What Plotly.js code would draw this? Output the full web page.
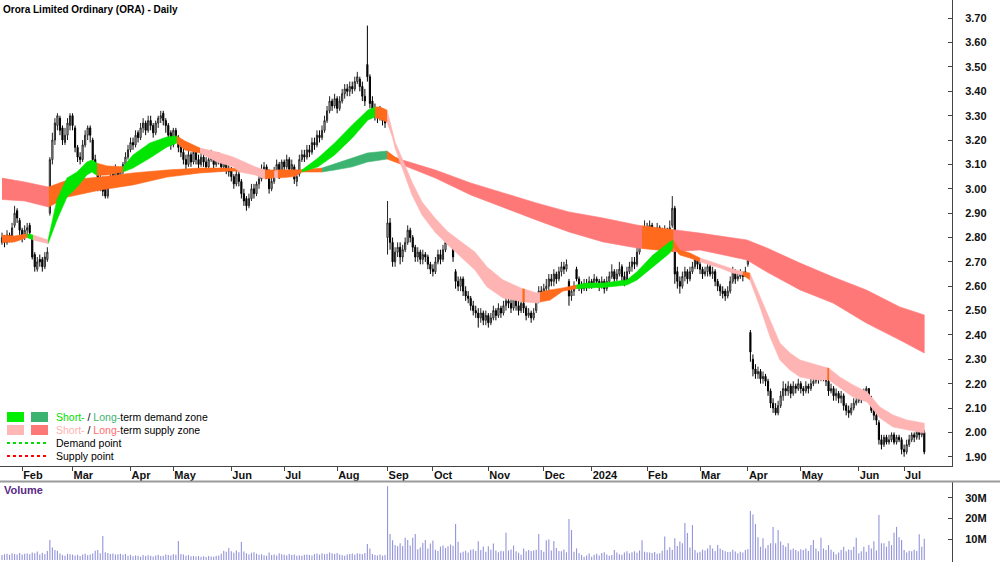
<!DOCTYPE html>
<html><head><meta charset="utf-8">
<script src="https://cdn.plot.ly/plotly-3.0.1.min.js"></script>
<style>html,body{margin:0;padding:0;background:#fff}#chart{width:1000px;height:562px}</style>
</head><body><div id="chart"></div>
<script>
// ---- Daily candles (trading-day order, Jan 2023 - Jul 2024) ----
const openP = [
2.78,2.80,2.78,2.81,2.79,2.85,2.91,2.87,2.83,2.80,
2.83,2.85,2.80,2.73,2.67,2.71,2.71,2.68,2.71,2.90,
3.12,3.20,3.26,3.29,3.25,3.19,3.22,3.26,3.30,3.25,
3.17,3.13,3.12,3.18,3.22,3.25,3.20,3.12,3.08,3.00,
3.03,3.00,2.97,3.02,3.06,3.04,3.08,3.03,3.07,3.10,
3.13,3.16,3.19,3.18,3.23,3.21,3.25,3.27,3.24,3.28,
3.26,3.23,3.27,3.29,3.31,3.28,3.26,3.23,3.18,3.24,
3.21,3.17,3.15,3.12,3.10,3.14,3.11,3.15,3.12,3.10,
3.13,3.11,3.09,3.12,3.14,3.10,3.13,3.12,3.09,3.11,
3.08,3.08,3.05,3.02,3.06,3.03,2.98,2.96,2.93,2.96,
3.00,2.98,3.02,3.04,3.08,3.09,3.07,3.00,3.03,3.07,
3.10,3.06,3.11,3.09,3.12,3.08,3.09,3.03,3.06,3.12,
3.14,3.13,3.16,3.15,3.19,3.18,3.22,3.21,3.24,3.28,
3.32,3.36,3.34,3.37,3.33,3.36,3.39,3.41,3.40,3.42,
3.41,3.44,3.45,3.42,3.38,3.51,3.46,3.36,3.33,3.31,
3.29,3.32,3.29,2.80,2.86,2.78,2.70,2.74,2.76,2.72,
2.75,2.78,2.83,2.80,2.76,2.72,2.74,2.71,2.73,2.72,
2.69,2.67,2.66,2.70,2.73,2.71,2.75,2.78,2.80,2.79,
2.66,2.62,2.60,2.63,2.58,2.56,2.55,2.52,2.50,2.49,
2.47,2.49,2.46,2.48,2.45,2.47,2.50,2.48,2.51,2.49,
2.52,2.54,2.53,2.51,2.55,2.52,2.50,2.53,2.51,2.48,
2.49,2.47,2.50,2.55,2.58,2.56,2.59,2.60,2.63,2.62,
2.65,2.63,2.66,2.68,2.67,2.62,2.56,2.58,2.67,2.63,
2.60,2.59,2.61,2.60,2.62,2.61,2.63,2.62,2.60,2.62,
2.59,2.62,2.64,2.66,2.63,2.65,2.68,2.64,2.62,2.66,
2.68,2.70,2.69,2.74,2.78,2.80,2.84,2.81,2.85,2.79,
2.82,2.84,2.82,2.80,2.83,2.81,2.85,2.92,2.66,2.62,
2.60,2.64,2.66,2.63,2.66,2.68,2.71,2.69,2.67,2.65,
2.66,2.68,2.65,2.66,2.62,2.60,2.58,2.58,2.56,2.58,
2.62,2.66,2.63,2.64,2.65,2.64,2.69,2.41,2.30,2.26,
2.24,2.25,2.22,2.23,2.21,2.17,2.12,2.10,2.08,2.11,
2.15,2.18,2.17,2.19,2.16,2.19,2.18,2.20,2.18,2.17,
2.19,2.18,2.20,2.21,2.23,2.22,2.24,2.23,2.21,2.17,
2.18,2.15,2.16,2.14,2.15,2.11,2.09,2.08,2.10,2.12,
2.13,2.15,2.14,2.17,2.18,2.14,2.09,2.07,2.04,1.97,
1.95,1.98,1.96,1.97,1.99,1.96,1.98,1.97,1.93,1.92,
1.95,1.97,1.99,1.98,2.00,1.99,2.00];
const highP = [
2.82,2.81,2.83,2.82,2.86,2.93,2.92,2.88,2.84,2.85,
2.86,2.86,2.81,2.74,2.72,2.73,2.72,2.74,2.76,3.13,
3.23,3.29,3.31,3.30,3.26,3.25,3.29,3.31,3.31,3.26,
3.18,3.15,3.20,3.24,3.26,3.26,3.21,3.14,3.09,3.06,
3.05,3.01,3.03,3.07,3.08,3.10,3.09,3.09,3.11,3.15,
3.18,3.21,3.21,3.24,3.24,3.27,3.29,3.28,3.30,3.30,
3.27,3.28,3.30,3.32,3.32,3.29,3.27,3.24,3.25,3.25,
3.22,3.19,3.17,3.14,3.16,3.15,3.17,3.16,3.14,3.15,
3.15,3.13,3.14,3.16,3.15,3.15,3.15,3.13,3.13,3.12,
3.10,3.09,3.06,3.08,3.07,3.04,3.00,2.97,2.98,3.02,
3.02,3.03,3.06,3.10,3.11,3.10,3.08,3.05,3.09,3.12,
3.11,3.12,3.12,3.14,3.13,3.12,3.10,3.07,3.14,3.16,
3.16,3.18,3.18,3.21,3.21,3.24,3.24,3.26,3.30,3.34,
3.38,3.37,3.39,3.38,3.38,3.41,3.43,3.43,3.44,3.44,
3.46,3.48,3.46,3.44,3.41,3.67,3.47,3.38,3.35,3.33,
3.34,3.33,3.30,2.95,2.88,2.80,2.76,2.78,2.78,2.77,
2.80,2.85,2.84,2.81,2.77,2.76,2.75,2.75,2.74,2.73,
2.70,2.69,2.72,2.75,2.75,2.77,2.80,2.82,2.81,2.80,
2.67,2.64,2.64,2.64,2.60,2.58,2.56,2.54,2.52,2.51,
2.51,2.50,2.50,2.49,2.49,2.52,2.51,2.53,2.52,2.54,
2.56,2.56,2.55,2.57,2.56,2.54,2.55,2.54,2.52,2.51,
2.50,2.51,2.57,2.60,2.60,2.61,2.63,2.65,2.65,2.67,
2.66,2.68,2.70,2.70,2.71,2.63,2.60,2.62,2.68,2.64,
2.62,2.63,2.63,2.64,2.63,2.65,2.64,2.63,2.64,2.63,
2.64,2.66,2.69,2.67,2.67,2.70,2.69,2.66,2.68,2.70,
2.72,2.72,2.76,2.80,2.83,2.87,2.86,2.87,2.86,2.84,
2.86,2.85,2.84,2.85,2.84,2.87,2.97,2.93,2.68,2.64,
2.66,2.68,2.67,2.68,2.70,2.72,2.72,2.70,2.68,2.68,
2.69,2.69,2.68,2.67,2.63,2.61,2.60,2.59,2.60,2.64,
2.68,2.67,2.66,2.67,2.66,2.68,2.73,2.42,2.32,2.28,
2.27,2.26,2.25,2.24,2.22,2.18,2.14,2.12,2.13,2.17,
2.21,2.20,2.21,2.20,2.21,2.20,2.22,2.21,2.19,2.21,
2.20,2.22,2.23,2.25,2.24,2.25,2.25,2.24,2.22,2.20,
2.19,2.18,2.17,2.17,2.16,2.12,2.11,2.12,2.14,2.15,
2.17,2.16,2.18,2.19,2.18,2.15,2.11,2.08,2.05,1.99,
1.99,1.99,1.99,2.00,2.00,1.99,1.99,1.98,1.95,1.97,
1.99,2.00,2.00,2.01,2.01,2.03,2.01];
const lowP = [
2.77,2.76,2.77,2.78,2.78,2.84,2.86,2.81,2.78,2.79,
2.81,2.80,2.71,2.66,2.66,2.68,2.66,2.67,2.70,2.89,
3.10,3.18,3.24,3.22,3.18,3.18,3.20,3.24,3.24,3.15,
3.11,3.10,3.11,3.17,3.20,3.19,3.10,3.06,2.99,2.99,
2.97,2.96,2.96,3.01,3.02,3.03,3.01,3.02,3.06,3.09,
3.12,3.15,3.16,3.17,3.19,3.20,3.23,3.22,3.23,3.24,
3.21,3.22,3.25,3.27,3.26,3.23,3.20,3.16,3.17,3.19,
3.15,3.13,3.10,3.08,3.09,3.09,3.10,3.10,3.08,3.09,
3.09,3.07,3.08,3.11,3.08,3.09,3.10,3.07,3.08,3.06,
3.05,3.03,3.00,3.01,3.01,2.96,2.93,2.91,2.92,2.95,
2.96,2.97,3.00,3.03,3.06,3.04,2.98,2.99,3.02,3.05,
3.04,3.05,3.07,3.08,3.06,3.07,3.02,3.01,3.05,3.11,
3.11,3.12,3.13,3.14,3.16,3.17,3.19,3.20,3.23,3.27,
3.31,3.32,3.33,3.31,3.32,3.35,3.37,3.38,3.38,3.39,
3.40,3.43,3.40,3.36,3.34,3.44,3.33,3.31,3.28,3.27,
3.28,3.26,3.25,2.73,2.75,2.68,2.68,2.72,2.69,2.70,
2.74,2.77,2.78,2.74,2.70,2.70,2.69,2.69,2.70,2.67,
2.65,2.64,2.65,2.69,2.69,2.70,2.74,2.77,2.77,2.70,
2.59,2.58,2.58,2.56,2.54,2.53,2.50,2.48,2.47,2.43,
2.45,2.44,2.44,2.43,2.44,2.46,2.46,2.47,2.47,2.48,
2.50,2.51,2.49,2.50,2.50,2.48,2.49,2.49,2.46,2.47,
2.45,2.46,2.49,2.53,2.54,2.55,2.57,2.58,2.60,2.60,
2.61,2.62,2.64,2.65,2.66,2.52,2.54,2.56,2.62,2.58,
2.57,2.58,2.58,2.59,2.59,2.60,2.60,2.58,2.59,2.57,
2.58,2.61,2.63,2.61,2.62,2.64,2.62,2.60,2.61,2.65,
2.66,2.67,2.68,2.73,2.76,2.78,2.79,2.80,2.77,2.78,
2.80,2.80,2.78,2.79,2.79,2.80,2.84,2.61,2.59,2.57,
2.59,2.62,2.61,2.62,2.65,2.67,2.67,2.65,2.63,2.64,
2.64,2.64,2.63,2.60,2.58,2.56,2.55,2.54,2.55,2.57,
2.61,2.61,2.62,2.63,2.62,2.64,2.68,2.29,2.23,2.22,
2.22,2.20,2.20,2.19,2.15,2.10,2.08,2.07,2.07,2.10,
2.13,2.15,2.15,2.14,2.15,2.16,2.17,2.16,2.15,2.16,
2.16,2.17,2.19,2.20,2.20,2.21,2.21,2.19,2.15,2.16,
2.13,2.13,2.12,2.12,2.09,2.07,2.06,2.07,2.09,2.11,
2.12,2.12,2.13,2.15,2.13,2.08,2.05,2.03,1.95,1.93,
1.94,1.95,1.95,1.96,1.95,1.95,1.96,1.91,1.90,1.91,
1.94,1.96,1.96,1.97,1.97,1.98,1.91];
const closeP = [
2.80,2.78,2.81,2.79,2.84,2.90,2.88,2.83,2.80,2.83,
2.84,2.82,2.72,2.68,2.70,2.70,2.68,2.72,2.74,3.12,
3.20,3.27,3.30,3.24,3.20,3.22,3.27,3.30,3.26,3.17,
3.13,3.12,3.18,3.22,3.25,3.22,3.12,3.08,3.01,3.03,
2.99,2.97,3.02,3.05,3.04,3.08,3.03,3.07,3.10,3.13,
3.16,3.19,3.18,3.22,3.21,3.25,3.27,3.24,3.28,3.26,
3.23,3.27,3.29,3.30,3.28,3.26,3.22,3.18,3.24,3.21,
3.17,3.15,3.12,3.10,3.14,3.11,3.15,3.12,3.10,3.13,
3.11,3.09,3.12,3.14,3.10,3.13,3.12,3.09,3.11,3.08,
3.07,3.05,3.02,3.06,3.03,2.98,2.95,2.93,2.96,3.00,
2.98,3.02,3.04,3.08,3.09,3.06,3.00,3.03,3.07,3.10,
3.06,3.11,3.09,3.12,3.08,3.10,3.04,3.05,3.12,3.14,
3.13,3.16,3.15,3.19,3.18,3.22,3.21,3.24,3.28,3.32,
3.36,3.34,3.37,3.33,3.36,3.39,3.41,3.40,3.42,3.41,
3.44,3.46,3.42,3.38,3.36,3.46,3.35,3.33,3.31,3.29,
3.32,3.28,3.27,2.86,2.78,2.70,2.74,2.76,2.72,2.75,
2.78,2.83,2.80,2.76,2.72,2.74,2.71,2.73,2.72,2.69,
2.67,2.66,2.70,2.73,2.71,2.75,2.78,2.80,2.79,2.72,
2.62,2.60,2.63,2.58,2.56,2.55,2.52,2.50,2.49,2.47,
2.49,2.46,2.48,2.45,2.47,2.50,2.48,2.51,2.49,2.52,
2.54,2.53,2.51,2.55,2.52,2.50,2.53,2.51,2.48,2.49,
2.47,2.49,2.55,2.58,2.56,2.59,2.60,2.63,2.62,2.65,
2.63,2.66,2.68,2.67,2.69,2.56,2.58,2.60,2.63,2.60,
2.59,2.61,2.60,2.62,2.61,2.63,2.62,2.60,2.62,2.59,
2.62,2.64,2.66,2.63,2.65,2.67,2.64,2.62,2.66,2.68,
2.70,2.69,2.74,2.78,2.80,2.84,2.81,2.85,2.79,2.82,
2.84,2.82,2.80,2.83,2.81,2.84,2.92,2.65,2.62,2.60,
2.64,2.66,2.63,2.66,2.68,2.71,2.69,2.67,2.65,2.66,
2.68,2.65,2.66,2.62,2.60,2.58,2.57,2.56,2.58,2.62,
2.66,2.63,2.64,2.65,2.64,2.66,2.72,2.33,2.26,2.24,
2.25,2.22,2.23,2.21,2.17,2.12,2.10,2.08,2.11,2.15,
2.18,2.17,2.19,2.16,2.19,2.18,2.20,2.18,2.17,2.19,
2.18,2.20,2.21,2.23,2.22,2.24,2.23,2.21,2.17,2.18,
2.15,2.16,2.14,2.15,2.11,2.09,2.08,2.10,2.12,2.13,
2.15,2.14,2.17,2.18,2.14,2.09,2.07,2.05,1.97,1.95,
1.98,1.96,1.97,1.99,1.96,1.98,1.97,1.93,1.92,1.95,
1.97,1.99,1.98,2.00,1.99,2.01,1.92];
// Volume in millions
const volumeM = [
2.4,2.8,3.0,2.5,3.2,2.9,2.6,3.4,2.7,3.0,
3.1,2.8,3.6,3.3,4.1,2.6,3.5,2.9,4.4,9.7,
6.0,4.8,4.5,3.1,2.4,2.0,3.0,2.8,2.6,2.2,
2.5,1.9,2.7,3.0,2.3,2.6,3.1,4.5,4.8,3.2,
11.6,3.8,3.4,2.9,3.1,2.6,2.8,3.0,2.5,2.9,
2.1,2.5,1.8,2.2,2.0,1.6,2.4,1.9,2.3,2.0,
1.7,2.2,2.5,1.9,2.1,2.6,2.4,2.2,2.8,2.5,
9.2,2.9,2.6,2.1,2.4,1.8,2.0,1.7,1.9,1.6,
1.8,1.5,1.9,1.7,1.6,2.0,2.2,3.0,4.5,4.0,
5.8,4.2,3.5,4.6,3.8,8.7,4.1,3.2,2.6,3.5,
3.8,3.1,2.5,2.8,2.3,2.1,3.6,2.4,2.6,2.2,
3.2,2.8,2.5,2.2,2.9,2.4,2.6,2.0,2.3,2.1,
2.5,2.7,2.4,2.2,2.9,3.1,2.6,3.3,2.8,3.0,
3.6,3.2,2.9,3.4,2.6,2.3,2.0,2.7,2.9,3.1,
2.5,3.3,3.0,2.8,3.4,7.7,5.6,2.9,2.4,2.2,
2.6,2.1,2.4,35.7,12.6,9.5,7.2,6.6,8.1,6.8,
10.8,9.7,7.0,10.8,12.6,5.2,6.0,8.2,9.7,5.5,
8.0,9.4,5.0,4.4,6.5,7.0,5.8,6.6,7.5,6.9,
17.4,8.8,3.5,4.0,4.5,3.6,4.9,5.2,4.3,9.0,
4.8,6.5,4.0,6.6,5.0,8.0,4.6,3.8,4.4,4.2,
13.2,4.6,5.1,7.0,4.2,3.5,2.5,5.5,4.2,4.8,
4.3,4.6,5.0,12.6,4.8,4.0,9.5,9.9,4.6,9.2,
5.8,4.4,4.2,5.1,3.7,19.8,14.5,4.0,5.6,3.2,
2.4,1.6,2.2,3.1,1.6,2.5,3.0,2.2,3.4,3.8,
2.6,2.0,2.4,4.8,3.6,2.8,2.5,3.6,4.2,3.2,
3.8,4.2,3.5,4.6,9.5,4.0,3.8,3.6,3.4,3.9,
3.0,3.3,4.5,11.4,4.8,6.2,5.0,10.5,6.8,8.9,
8.1,17.9,13.0,6.0,16.9,4.8,3.5,4.0,5.0,4.6,
5.6,7.2,5.6,4.4,7.2,5.6,4.8,4.2,3.9,4.0,
5.0,4.1,3.2,4.0,3.6,4.8,5.2,23.7,22.0,17.4,
11.0,6.4,10.5,5.6,7.2,8.1,15.9,8.1,14.5,8.9,
7.2,6.4,8.1,5.0,5.6,4.8,4.2,5.2,4.8,5.6,
4.4,7.2,9.7,5.6,4.2,10.8,5.6,4.8,7.2,5.0,
4.0,2.8,3.6,4.8,6.4,4.2,5.1,4.8,6.4,10.8,
3.2,4.2,6.4,4.0,7.2,5.6,9.0,4.6,21.7,8.1,
8.1,6.4,9.2,7.2,13.2,16.0,11.0,9.7,4.8,3.6,
4.5,4.2,5.0,4.4,12.4,6.4,10.3];

// Month labels at the trading-day index of each month's first session
const monthIdx = [8,28,51,68,91,112,133,153,171,193,215,234,256,277,296,317,340,358];
const monthLbl = ['Feb','Mar','Apr','May','Jun','Jul','Aug','Sep','Oct','Nov','Dec','2024','Feb','Mar','Apr','May','Jun','Jul'];

// Short-term band (fast averages): position, upper, lower, zone type of the stretch that follows
const sPos = [0,5,10,12.3,15,18.3,21.8,25.8,29.8,33.7,35.7,37.7,41.7,48,52,58.7,65.5,69.4,72.6,78.6,85.3,91.7,94.4,100.4,104.4,108,109.5,116,119,125.4,132,139,145.2,148,150,152.8,155,156,158.7,162.7,166.7,171.8,177,182.5,187.7,192.5,198.8,206.5,207.5,212.3,213.5,217.5,222.6,228,232,238.5,248,252,258.3,265,266.3,269,273,277,285,290,294,296.8,300.8,304.8,308.7,312.7,316.7,323.4,327.5,328.3,332.5,337.7,343.3,348.4,353.6,359.1,366];
const sHi = [2.81,2.806,2.815,2.81,2.80,2.79,2.954,3.044,3.069,3.110,3.118,3.105,3.094,3.090,3.139,3.188,3.213,3.217,3.196,3.167,3.151,3.131,3.118,3.090,3.077,3.072,3.077,3.075,3.077,3.126,3.188,3.262,3.323,3.336,3.336,3.323,3.24,3.192,3.126,3.028,2.946,2.880,2.823,2.782,2.740,2.679,2.626,2.59,2.588,2.572,2.575,2.585,2.593,2.605,2.613,2.613,2.626,2.659,2.728,2.782,2.790,2.749,2.736,2.716,2.687,2.671,2.659,2.654,2.556,2.461,2.367,2.326,2.297,2.277,2.265,2.262,2.227,2.195,2.166,2.104,2.071,2.051,2.038];
const sLo = [2.78,2.782,2.80,2.79,2.785,2.775,2.872,2.966,3.007,3.057,3.069,3.055,3.057,3.069,3.085,3.126,3.172,3.188,3.159,3.147,3.110,3.090,3.069,3.057,3.040,3.046,3.044,3.050,3.069,3.090,3.139,3.209,3.282,3.295,3.285,3.274,3.21,3.167,3.085,2.975,2.892,2.823,2.769,2.716,2.667,2.597,2.552,2.536,2.535,2.531,2.535,2.543,2.580,2.590,2.593,2.595,2.605,2.626,2.679,2.736,2.761,2.728,2.716,2.700,2.675,2.654,2.646,2.626,2.515,2.392,2.297,2.256,2.227,2.215,2.215,2.214,2.182,2.145,2.125,2.059,2.022,2.010,1.997];
const sZone = ['M','M','D','S','S','D','D','D','D','D','D','M','M','D','D','D','D','M','M','S','S','S','S','S','M','S','M','M','D','D','D','D','D','M','M','S','S','S','S','S','S','S','S','S','S','S','S','M','S','S','M','M','M','D','D','D','D','D','D','D','M','M','M','S','S','S','M','S','S','S','S','S','S','S','M','S','S','S','S','S','S','S','-'];

// Long-term band (slow averages)
const lPos = [0,9,18.5,26,39,52,65.5,78.6,90.5,104,118,127,132,139,145,152.8,156,157.5,159,172,186,199,212,225,238.5,252,254,266.5,277,295.6,303.6,316.7,329.8,343,356.3,366];
const lHi = [3.044,3.028,3.007,3.036,3.048,3.065,3.077,3.085,3.085,3.077,3.077,3.085,3.102,3.125,3.147,3.155,3.130,3.124,3.118,3.077,3.024,2.983,2.942,2.905,2.880,2.851,2.848,2.832,2.818,2.790,2.757,2.695,2.638,2.585,2.515,2.482];
const lLo = [2.956,2.950,2.925,2.966,2.995,3.016,3.048,3.065,3.073,3.069,3.069,3.069,3.077,3.090,3.110,3.122,3.110,3.104,3.098,3.044,2.975,2.925,2.872,2.823,2.782,2.757,2.755,2.742,2.749,2.708,2.658,2.585,2.531,2.449,2.379,2.326];
const lZone = ['S','S','M','M','M','M','M','M','M','M','M','D','D','D','D','M','M','S','S','S','S','S','S','S','S','S','M','S','S','S','S','S','S','S','S','-'];

const shortCol = {D:'#00e600', S:'#ffb4b4', M:'#ff6a1c'};
const longCol  = {D:'#3cb371', S:'#ff7878', M:'#ff6a1c'};

const FONT = 'Liberation Sans, Arial, sans-serif';
const idx = closeP.map((_, i) => i);

function bandTraces(pos, hi, lo, zone, cols) {
  const out = [];
  const n = pos.length;
  let start = 0;
  const push = (a, b) => {
    const xs = pos.slice(a, b + 1), t = hi.slice(a, b + 1), l = lo.slice(a, b + 1);
    const c = cols[zone[a]];
    out.push({type:'scatter', mode:'lines', x: xs.concat(xs.slice().reverse()),
      y: t.concat(l.slice().reverse()), fill:'toself', fillcolor:c,
      line:{width:0.6, color:c}, hoverinfo:'skip', showlegend:false, xaxis:'x', yaxis:'y'});
  };
  for (let k = 1; k < n; k++) {
    if (k === n - 1 || zone[k] !== zone[start]) { push(start, k); start = k; }
  }
  return out;
}

const traces = [].concat(
  bandTraces(lPos, lHi, lLo, lZone, longCol),
  bandTraces(sPos, sHi, sLo, sZone, shortCol),
  [{
    type:'candlestick', x: idx, open: openP, high: highP, low: lowP, close: closeP,
    increasing:{line:{color:'#222', width:1}, fillcolor:'#ffffff'},
    decreasing:{line:{color:'#000', width:1}, fillcolor:'#000000'},
    whiskerwidth:0, hoverinfo:'skip', showlegend:false, xaxis:'x', yaxis:'y'
  },{
    type:'bar', x: idx, y: volumeM, width:0.45, marker:{color:'#9696dc', line:{width:0}},
    hoverinfo:'skip', showlegend:false, xaxis:'x2', yaxis:'y2'
  }]
);

const H = 562;
const py = p => 1 - p / H;
const legendRows = [
  {y:417, html:'<span style="color:#00dd00">Short-</span> / <span style="color:#3cb371">Long-</span>term demand zone'},
  {y:430, html:'<span style="color:#ffb0b0">Short-</span> / <span style="color:#ff6e6e">Long-</span>term supply zone'},
  {y:443, html:'Demand point'},
  {y:456, html:'Supply point'}
];
const annotations = legendRows.map(r => ({xref:'paper', yref:'paper', x:0.054, y:py(r.y), xanchor:'left', yanchor:'middle',
  text:r.html, showarrow:false, font:{family:FONT, size:10.5, color:'#000'}}));
annotations.push({xref:'paper', yref:'paper', x:0.002, y:py(490), xanchor:'left', yanchor:'middle', text:'Volume',
  showarrow:false, font:{family:FONT, size:11, color:'#5b2a86', weight:'bold'}});

const sq = (x0, x1, y0, y1, c) => ({type:'rect', xref:'paper', yref:'paper', x0:x0/1000, x1:x1/1000, y0:py(y1), y1:py(y0), fillcolor:c, line:{width:0}});
const shapes = [
  sq(7,24,412,422,'#00ee00'), sq(31,48,412,422,'#3cb371'),
  sq(7,24,425,435,'#ffb6b6'), sq(31,48,425,435,'#ff7878'),
  {type:'line', xref:'paper', yref:'paper', x0:0.007, x1:0.048, y0:py(443), y1:py(443), line:{color:'#00dd00', width:2, dash:'dot'}},
  {type:'line', xref:'paper', yref:'paper', x0:0.007, x1:0.048, y0:py(456), y1:py(456), line:{color:'#ff0000', width:2, dash:'dot'}},
  {type:'line', xref:'paper', yref:'paper', x0:0, x1:1, y0:py(481.5), y1:py(481.5), line:{color:'#9a9a9a', width:2}}
];

const tickFont = {family:FONT, size:11, color:'#111', weight:'bold'};
const layout = {
  width:1000, height:562, margin:{l:0, r:0, t:0, b:0}, paper_bgcolor:'#fff', plot_bgcolor:'#fff',
  showlegend:false, boxgap:0.35,
  title:{text:'Orora Limited Ordinary (ORA) - Daily', x:0.003, xanchor:'left', xref:'paper', y:1 - 9/H, yref:'container', yanchor:'middle',
    font:{family:FONT, size:10, color:'#000', weight:'bold'}},
  xaxis:{domain:[0,0.952], range:[-0.79,377], anchor:'y', showgrid:false, zeroline:false, showline:true, linecolor:'#444', linewidth:1,
    ticks:'outside', ticklen:4, tickcolor:'#444', tickvals:monthIdx, ticktext:monthLbl, ticklabelposition:'outside right',
    ticklabelstandoff:-1, tickfont:tickFont, rangeslider:{visible:false}, fixedrange:true},
  yaxis:{domain:[1 - 466/H, 1], range:[1.862,3.775], side:'right', anchor:'x', showgrid:false, zeroline:false, showline:true,
    linecolor:'#444', linewidth:1, ticks:'inside', ticklen:4, tickcolor:'#444',
    tickvals:[1.9,2.0,2.1,2.2,2.3,2.4,2.5,2.6,2.7,2.8,2.9,3.0,3.1,3.2,3.3,3.4,3.5,3.6,3.7], tickformat:'.2f',
    ticklabelstandoff:10, tickfont:tickFont, fixedrange:true},
  xaxis2:{domain:[0,0.952], range:[-0.79,377], anchor:'y2', matches:'x', showgrid:false, zeroline:false, showline:false,
    showticklabels:false, ticks:'', fixedrange:true},
  yaxis2:{domain:[0, 1 - 482/H], range:[-0.97,37.7], side:'right', anchor:'x2', showgrid:false, zeroline:false, showline:true,
    linecolor:'#444', linewidth:1, ticks:'inside', ticklen:4, tickcolor:'#444', tickvals:[10,20,30], ticktext:['10M','20M','30M'],
    ticklabelstandoff:10, tickfont:tickFont, fixedrange:true},
  annotations: annotations, shapes: shapes
};

Plotly.newPlot('chart', traces, layout, {staticPlot:true, displayModeBar:false});
</script></body></html>
